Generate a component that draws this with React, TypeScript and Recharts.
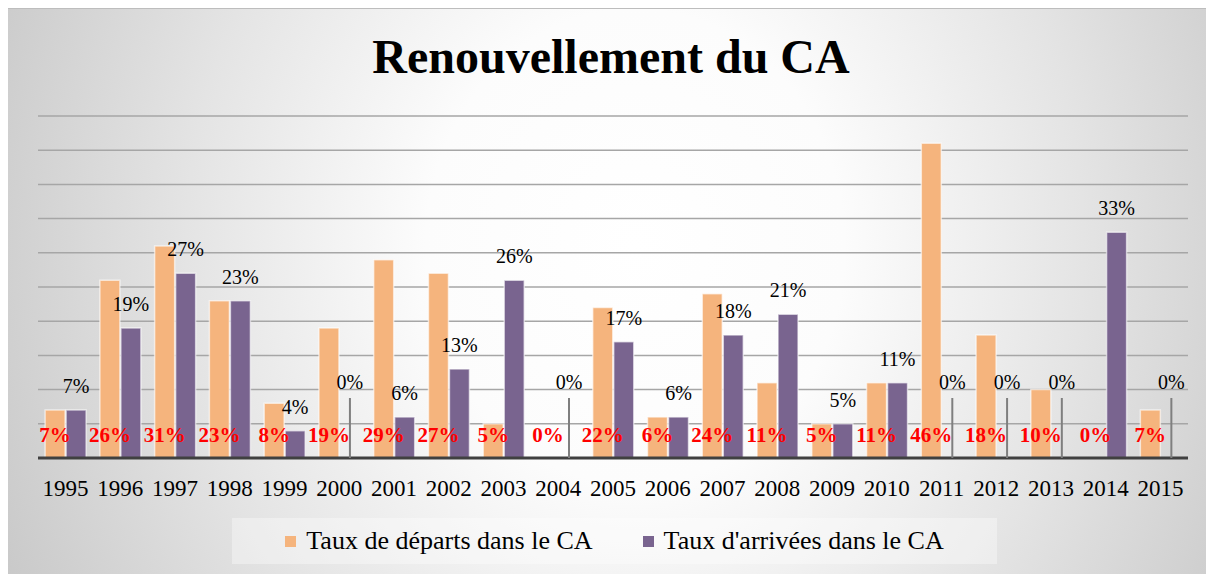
import React from "react";
import { BarChart, Bar, XAxis, YAxis, CartesianGrid, Legend, LabelList } from "recharts";

const years = ["1995", "1996", "1997", "1998", "1999", "2000", "2001", "2002", "2003", "2004", "2005", "2006", "2007", "2008", "2009", "2010", "2011", "2012", "2013", "2014", "2015"];
const departs = [7, 26, 31, 23, 8, 19, 29, 27, 5, 0, 22, 6, 24, 11, 5, 11, 46, 18, 10, 0, 7];
const arrivees = [7, 19, 27, 23, 4, 0, 6, 13, 26, 0, 17, 6, 18, 21, 5, 11, 0, 0, 0, 33, 0];
const yTicks = [0, 5, 10, 15, 20, 25, 30, 35, 40, 45, 50];

const data = years.map((year, i) => ({ year, departs: departs[i], arrivees: arrivees[i] }));

const SERIF = '"Liberation Serif", "Times New Roman", serif';
const ORANGE = "#F5B47D";
const PURPLE = "#79648F";

// zero bars get a hair-thin height so Recharts still hands them to the label list
const keepZero = (v: any) => (Number(v) === 0 ? 0.01 : 0);

const DepartLabel = (p: any) => {
  const cx = Number(p.x) + Number(p.width) / 2;
  const base = Number(p.y) + Number(p.height);
  return (
    <text x={cx} y={base - 16} textAnchor="middle" fill="#FF0000" fontWeight="bold" fontSize={21} fontFamily={SERIF}>
      {p.value}%
    </text>
  );
};

const ArriveeLabel = (p: any) => {
  const cx = Number(p.x) + Number(p.width) / 2;
  const top = Number(p.y);
  const base = Number(p.y) + Number(p.height);
  if (!Number(p.value)) {
    // Excel leader line for the empty bars
    return (
      <g>
        <line x1={cx} x2={cx} y1={base} y2={base - 60} stroke="#7f7f7f" strokeWidth={2} />
        <text x={cx} y={base - 69} textAnchor="middle" fill="#000" fontSize={20} fontFamily={SERIF}>
          0%
        </text>
      </g>
    );
  }
  return (
    <text x={cx} y={top - 17} textAnchor="middle" fill="#000" fontSize={20} fontFamily={SERIF}>
      {p.value}%
    </text>
  );
};

const LegendBox = () => (
  <div
    style={{
      width: 765,
      height: 46,
      background: "rgba(255,255,255,0.35)",
      display: "flex",
      alignItems: "center",
      justifyContent: "center",
      gap: 50,
      fontFamily: SERIF,
      fontSize: 26,
      color: "#000",
    }}
  >
    <span style={{ display: "flex", alignItems: "center" }}>
      <span style={{ width: 11, height: 11, background: ORANGE, marginRight: 10 }} />
      Taux de départs dans le CA
    </span>
    <span style={{ display: "flex", alignItems: "center" }}>
      <span style={{ width: 11, height: 11, background: PURPLE, marginRight: 10 }} />
      Taux d'arrivées dans le CA
    </span>
  </div>
);

export default function App() {
  return (
    <div
      style={{
        position: "relative",
        width: 1206,
        height: 566,
        borderTop: "1px solid #bdbdbd",
        background:
          "radial-gradient(ellipse 62% 150% at 52% 42%, #ffffff 0%, #fcfcfc 28%, #e4e4e4 60%, #c3c3c3 100%)",
      }}
    >
      <div
        style={{
          position: "absolute",
          top: 24,
          left: 0,
          width: "100%",
          textAlign: "center",
          fontFamily: SERIF,
          fontWeight: "bold",
          fontSize: 48,
          lineHeight: 1,
          color: "#000",
        }}
      >
        Renouvellement du CA
      </div>
      <BarChart
        width={1206}
        height={566}
        data={data}
        margin={{ top: 107, right: 26, left: 30, bottom: 87 }}
        barCategoryGap="13%"
        barGap={1}
      >
        <CartesianGrid vertical={false} stroke="#a6a6a6" strokeWidth={1.5} />
        <YAxis hide domain={[0, 50]} ticks={yTicks} />
        <XAxis
          dataKey="year"
          axisLine={{ stroke: "#404040", strokeWidth: 3 }}
          tickLine={false}
          tickMargin={16}
          interval={0}
          tick={{ fill: "#000", fontSize: 23, fontFamily: SERIF }}
        />
        <Legend
          layout="horizontal"
          verticalAlign="middle"
          align="center"
          content={() => <LegendBox />}
          wrapperStyle={{ position: "absolute", left: 224, top: 509, width: 765, height: 46 }}
        />
        <Bar
          dataKey="departs"
          fill={ORANGE}
          stroke="rgba(255,255,255,0.6)"
          strokeWidth={1.5}
          minPointSize={keepZero}
          isAnimationActive={false}
        >
          <LabelList dataKey="departs" content={DepartLabel} />
        </Bar>
        <Bar
          dataKey="arrivees"
          fill={PURPLE}
          stroke="rgba(255,255,255,0.6)"
          strokeWidth={1.5}
          minPointSize={keepZero}
          isAnimationActive={false}
        >
          <LabelList dataKey="arrivees" content={ArriveeLabel} />
        </Bar>
      </BarChart>
    </div>
  );
}
